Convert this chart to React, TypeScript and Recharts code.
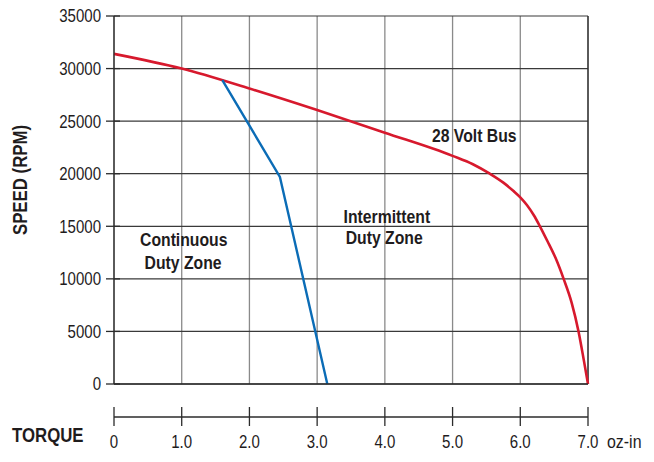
import React from 'react';
import {
  LineChart,
  Line,
  XAxis,
  YAxis,
  CartesianGrid,
  ReferenceLine,
  ReferenceDot,
  Label,
} from 'recharts';

// 28 volt bus curve (torque oz-in, speed rpm)
const busTorque = [0, 1.0, 2.0, 3.0, 4.0, 5.0, 5.3, 5.55, 5.75, 5.9, 6.0, 6.1, 6.2, 6.29, 6.4, 6.52, 6.64, 6.76, 6.86, 6.94, 7.0];
const busSpeed = [31400, 30000, 28100, 26050, 23900, 21700, 20900, 20000, 19150, 18350, 17750, 17000, 16050, 15000, 13600, 12000, 10000, 7700, 5000, 2200, 0];

// continuous duty limit
const contTorque = [1.6, 2.45, 3.15];
const contSpeed = [28900, 19700, 0];

const ozTicks = [0, 1, 2, 3, 4, 5, 6, 7];
const ncmTicks = [0, 1, 2, 3, 4, 5];
const speedTicks = [0, 5000, 10000, 15000, 20000, 25000, 30000, 35000];

const zoneLabels = [
  { text: '28 Volt Bus', x: 5.32, y: 23680 },
  { text: 'Intermittent', x: 4.03, y: 16010 },
  { text: 'Duty Zone', x: 3.99, y: 13980 },
  { text: 'Continuous', x: 1.03, y: 13790 },
  { text: 'Duty Zone', x: 1.02, y: 11630 },
];

const busData = busTorque.map((t, i) => ({ torque: t, speed: busSpeed[i] }));
const contData = contTorque.map((t, i) => ({ torque: t, speed: contSpeed[i] }));

const FONT = "'Liberation Sans', Arial, sans-serif";
const INK = '#1f1c1d';
const AXIS = '#2b2b2b';

// condensed text: plain Liberation Sans squeezed horizontally
function CText({ x, y, anchor = 'middle', size = 17.7, bold = false, sx = 0.85, rotate = 0, children }: any) {
  const tf = `translate(${x},${y})${rotate ? ` rotate(${rotate})` : ''} scale(${sx},1)`;
  return (
    <text
      transform={tf}
      x={0}
      y={0}
      dy="0.36em"
      textAnchor={anchor}
      fill={INK}
      fontSize={size}
      fontWeight={bold ? 'bold' : 'normal'}
      fontFamily={FONT}
    >
      {children}
    </text>
  );
}

const OzTick = (props: any) => {
  const { x, y, payload } = props;
  const v = payload.value;
  return (
    <g>
      <line x1={x} x2={x} y1={y - 10} y2={y + 9} stroke={AXIS} strokeWidth={1.3} />
      <CText x={x} y={y + 25}>{v === 0 ? '0' : v.toFixed(1)}</CText>
      {v === 7 && (
        <CText x={x + 19} y={y + 25} anchor="start" sx={0.9}>
          oz-in
        </CText>
      )}
    </g>
  );
};

const NcmTick = (props: any) => {
  const { x, y, payload } = props;
  const v = payload.value;
  return (
    <g>
      <line x1={x} x2={x} y1={y} y2={y + 5} stroke={AXIS} strokeWidth={1.3} />
      {v === 5 && <line x1={x - 12} x2={x} y1={y} y2={y} stroke={AXIS} strokeWidth={1.3} />}
      <CText x={x} y={y + 18}>{v}</CText>
      {v === 5 && (
        <CText x={x + 11} y={y + 18} anchor="start" sx={0.9}>
          N-cm
        </CText>
      )}
    </g>
  );
};

const SpeedTick = (props: any) => {
  const { x, y, payload } = props;
  return (
    <g>
      <line x1={x - 8} x2={x + 6} y1={y} y2={y} stroke={AXIS} strokeWidth={1.3} />
      <CText x={x - 13} y={y} anchor="end">
        {payload.value}
      </CText>
    </g>
  );
};

export default function App() {
  return (
    <div style={{ position: 'absolute', left: 0, top: 0, width: 654, height: 462, background: '#fff' }}>
      <LineChart width={654} height={462} margin={{ top: 16, right: 66, bottom: 0, left: 0 }}>
        <CartesianGrid xAxisId="oz" yAxisId="rpm" horizontal={false} stroke="#8a8a8a" strokeWidth={1.3} />
        <CartesianGrid xAxisId="oz" yAxisId="rpm" vertical={false} stroke="#3a3a3a" strokeWidth={1.2} />
        <ReferenceLine xAxisId="oz" yAxisId="rpm" x={7} stroke={AXIS} strokeWidth={1.3} />

        <XAxis
          xAxisId="oz"
          dataKey="torque"
          type="number"
          domain={[0, 7]}
          ticks={ozTicks}
          interval={0}
          height={45}
          tickSize={0}
          tickMargin={0}
          tickLine={false}
          tick={<OzTick />}
          stroke={AXIS}
          strokeWidth={1.3}
        />
        <XAxis
          xAxisId="ncm"
          type="number"
          domain={[0, 4.93]}
          allowDataOverflow
          ticks={ncmTicks}
          interval={0}
          height={33}
          tickSize={0}
          tickMargin={0}
          tickLine={false}
          tick={<NcmTick />}
          stroke={AXIS}
          strokeWidth={1.3}
          label={{
            content: () => (
              <CText x={12} y={434} anchor="start" size={21} bold sx={0.8}>
                TORQUE
              </CText>
            ),
          }}
        />
        <YAxis
          yAxisId="rpm"
          type="number"
          domain={[0, 35000]}
          ticks={speedTicks}
          interval={0}
          width={114}
          tickSize={0}
          tickMargin={0}
          tickLine={false}
          tick={<SpeedTick />}
          stroke={AXIS}
          strokeWidth={1.3}
        >
          <Label
            content={() => (
              <CText x={19} y={180} rotate={-90} size={21} bold sx={0.8}>
                SPEED (RPM)
              </CText>
            )}
          />
        </YAxis>

        <Line
          xAxisId="oz"
          yAxisId="rpm"
          data={busData}
          dataKey="speed"
          type="monotone"
          stroke="#d7192d"
          strokeWidth={2.6}
          dot={false}
          isAnimationActive={false}
        />
        <Line
          xAxisId="oz"
          yAxisId="rpm"
          data={contData}
          dataKey="speed"
          type="linear"
          stroke="#0b6cb6"
          strokeWidth={2.4}
          dot={false}
          isAnimationActive={false}
        />

        {zoneLabels.map((l, i) => (
          <ReferenceDot
            key={i}
            xAxisId="oz"
            yAxisId="rpm"
            x={l.x}
            y={l.y}
            r={0}
            fill="none"
            stroke="none"
            label={{
              content: (p: any) => (
                <CText
                  x={p.viewBox.x + (p.viewBox.width || 0) / 2}
                  y={p.viewBox.y + (p.viewBox.height || 0) / 2}
                  size={19}
                  bold
                  sx={0.83}
                >
                  {l.text}
                </CText>
              ),
            }}
          />
        ))}
      </LineChart>
    </div>
  );
}
